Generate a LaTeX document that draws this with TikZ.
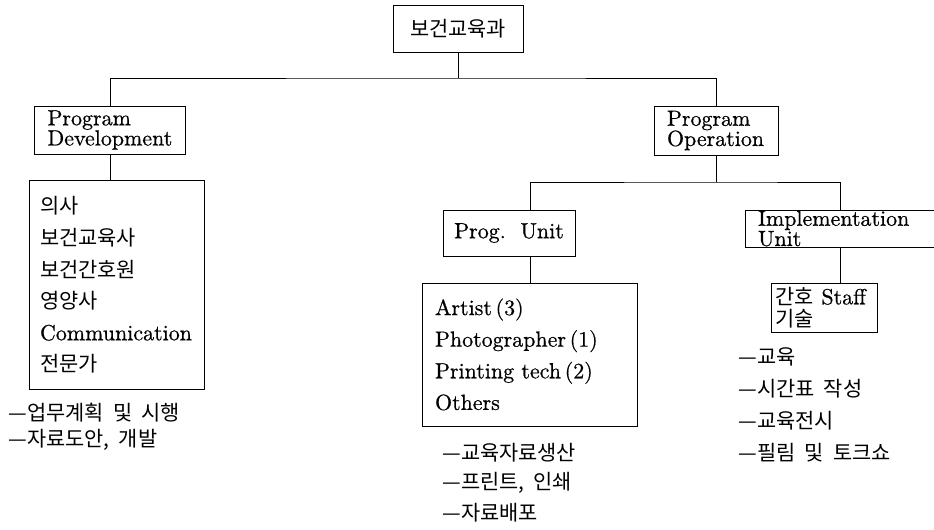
\documentclass[tikz,border=0pt]{standalone}
\usepackage{fontspec}
\setmainfont{lmroman10-regular}[Extension=.otf, FakeBold=0.6]
\newfontfamily\kr{Noto Sans CJK KR}[Scale=0.95, WordSpace=2]

\begin{document}
\begin{tikzpicture}[
        x=0.02cm, y=-0.02cm, % one unit = one pixel of the scan
        font=\fontsize{12.5}{18}\selectfont,
        unit/.style={rectangle, draw=black, line width=0.55pt, align=left, inner ysep=1pt},
        head/.style={unit, font=\fontsize{12.5}{11.5}\selectfont},
        duty/.style={anchor=west, inner sep=0pt, font=\kr\fontsize{12.5}{15}\selectfont},
        link/.style={line width=0.55pt}
    ]
    \useasboundingbox (0,0) rectangle (934,530);

    % Top: the department
    \node[unit, align=center, minimum width=2.6cm, minimum height=0.94cm] (dept) at (458, 28.5) {\kr 보건교육과};

    % Level 2: the two programs
    \node[head, text width=2.5cm, inner xsep=0.26cm, minimum height=0.96cm] (dev) at (110, 130) {Program\\Development};
    \node[head, text width=1.96cm, inner xsep=0.26cm, minimum height=0.98cm] (op) at (716, 130.5) {Program\\Operation};

    % Level 3: units under Program Operation
    \node[unit, align=center, minimum width=2.64cm, minimum height=0.92cm] (progunit) at (509, 233) {Prog.\ \ Unit};
    \node[head, text width=3.28cm, inner xsep=0.26cm, inner ysep=0pt, minimum height=0.74cm] (impl) at (840, 228.5) {Implementation\\Unit};

    % Staff boxes
    \node[unit, text width=3.06cm, inner xsep=0.22cm, minimum height=4.2cm] (devstaff) at (116.5, 285)
        {{\kr 의사}\\{\kr 보건교육사}\\{\kr 보건간호원}\\{\kr 영양사}\\Communication\\{\kr 전문가}};
    \node[unit, text width=3.8cm, inner xsep=0.26cm, minimum height=2.86cm] (progstaff) at (530, 354.5)
        {Artist\,(3)\\Photographer\,(1)\\Printing tech\,(2)\\Others};
    \node[unit, font=\fontsize{12.5}{12.5}\selectfont, text width=1.95cm, inner xsep=0.08cm, minimum height=0.98cm] (implstaff) at (824.5, 307.5)
        {{\kr 간호} Staff\\{\kr 기술}};

    % Connectors
    \coordinate (bus1) at (458, 78);
    \coordinate (bus2) at (716, 182);
    \draw[link] (dept.south) -- (bus1);
    \draw[link] (dev.north) |- (bus1) -| (op.north);
    \draw[link] (dev.south) -- (dev.south |- devstaff.north);
    \draw[link] (op.south) -- (bus2);
    \draw[link] (progunit.north -| progstaff.north) |- (bus2) -| (impl.north);
    \draw[link] (progunit.south -| progstaff.north) -- (progstaff.north);
    \draw[link] (impl.south) -- (impl.south |- implstaff.north);

    % Duty lists
    \foreach \t [count=\i] in {업무계획 및 시행, {자료도안, 개발}}
        \node[duty] (devjob\i) at (8, {413+27*(\i-1)}) {—\t};
    \foreach \t [count=\i] in {교육자료생산, {프린트, 인쇄}, 자료배포}
        \node[duty] (progjob\i) at (442, {453+30*(\i-1)}) {—\t};
    \foreach \t [count=\i] in {교육, 시간표 작성, 교육전시, 필림 및 토크쇼}
        \node[duty] (impljob\i) at (738, {357+32*(\i-1)}) {—\t};

\end{tikzpicture}
\end{document}
